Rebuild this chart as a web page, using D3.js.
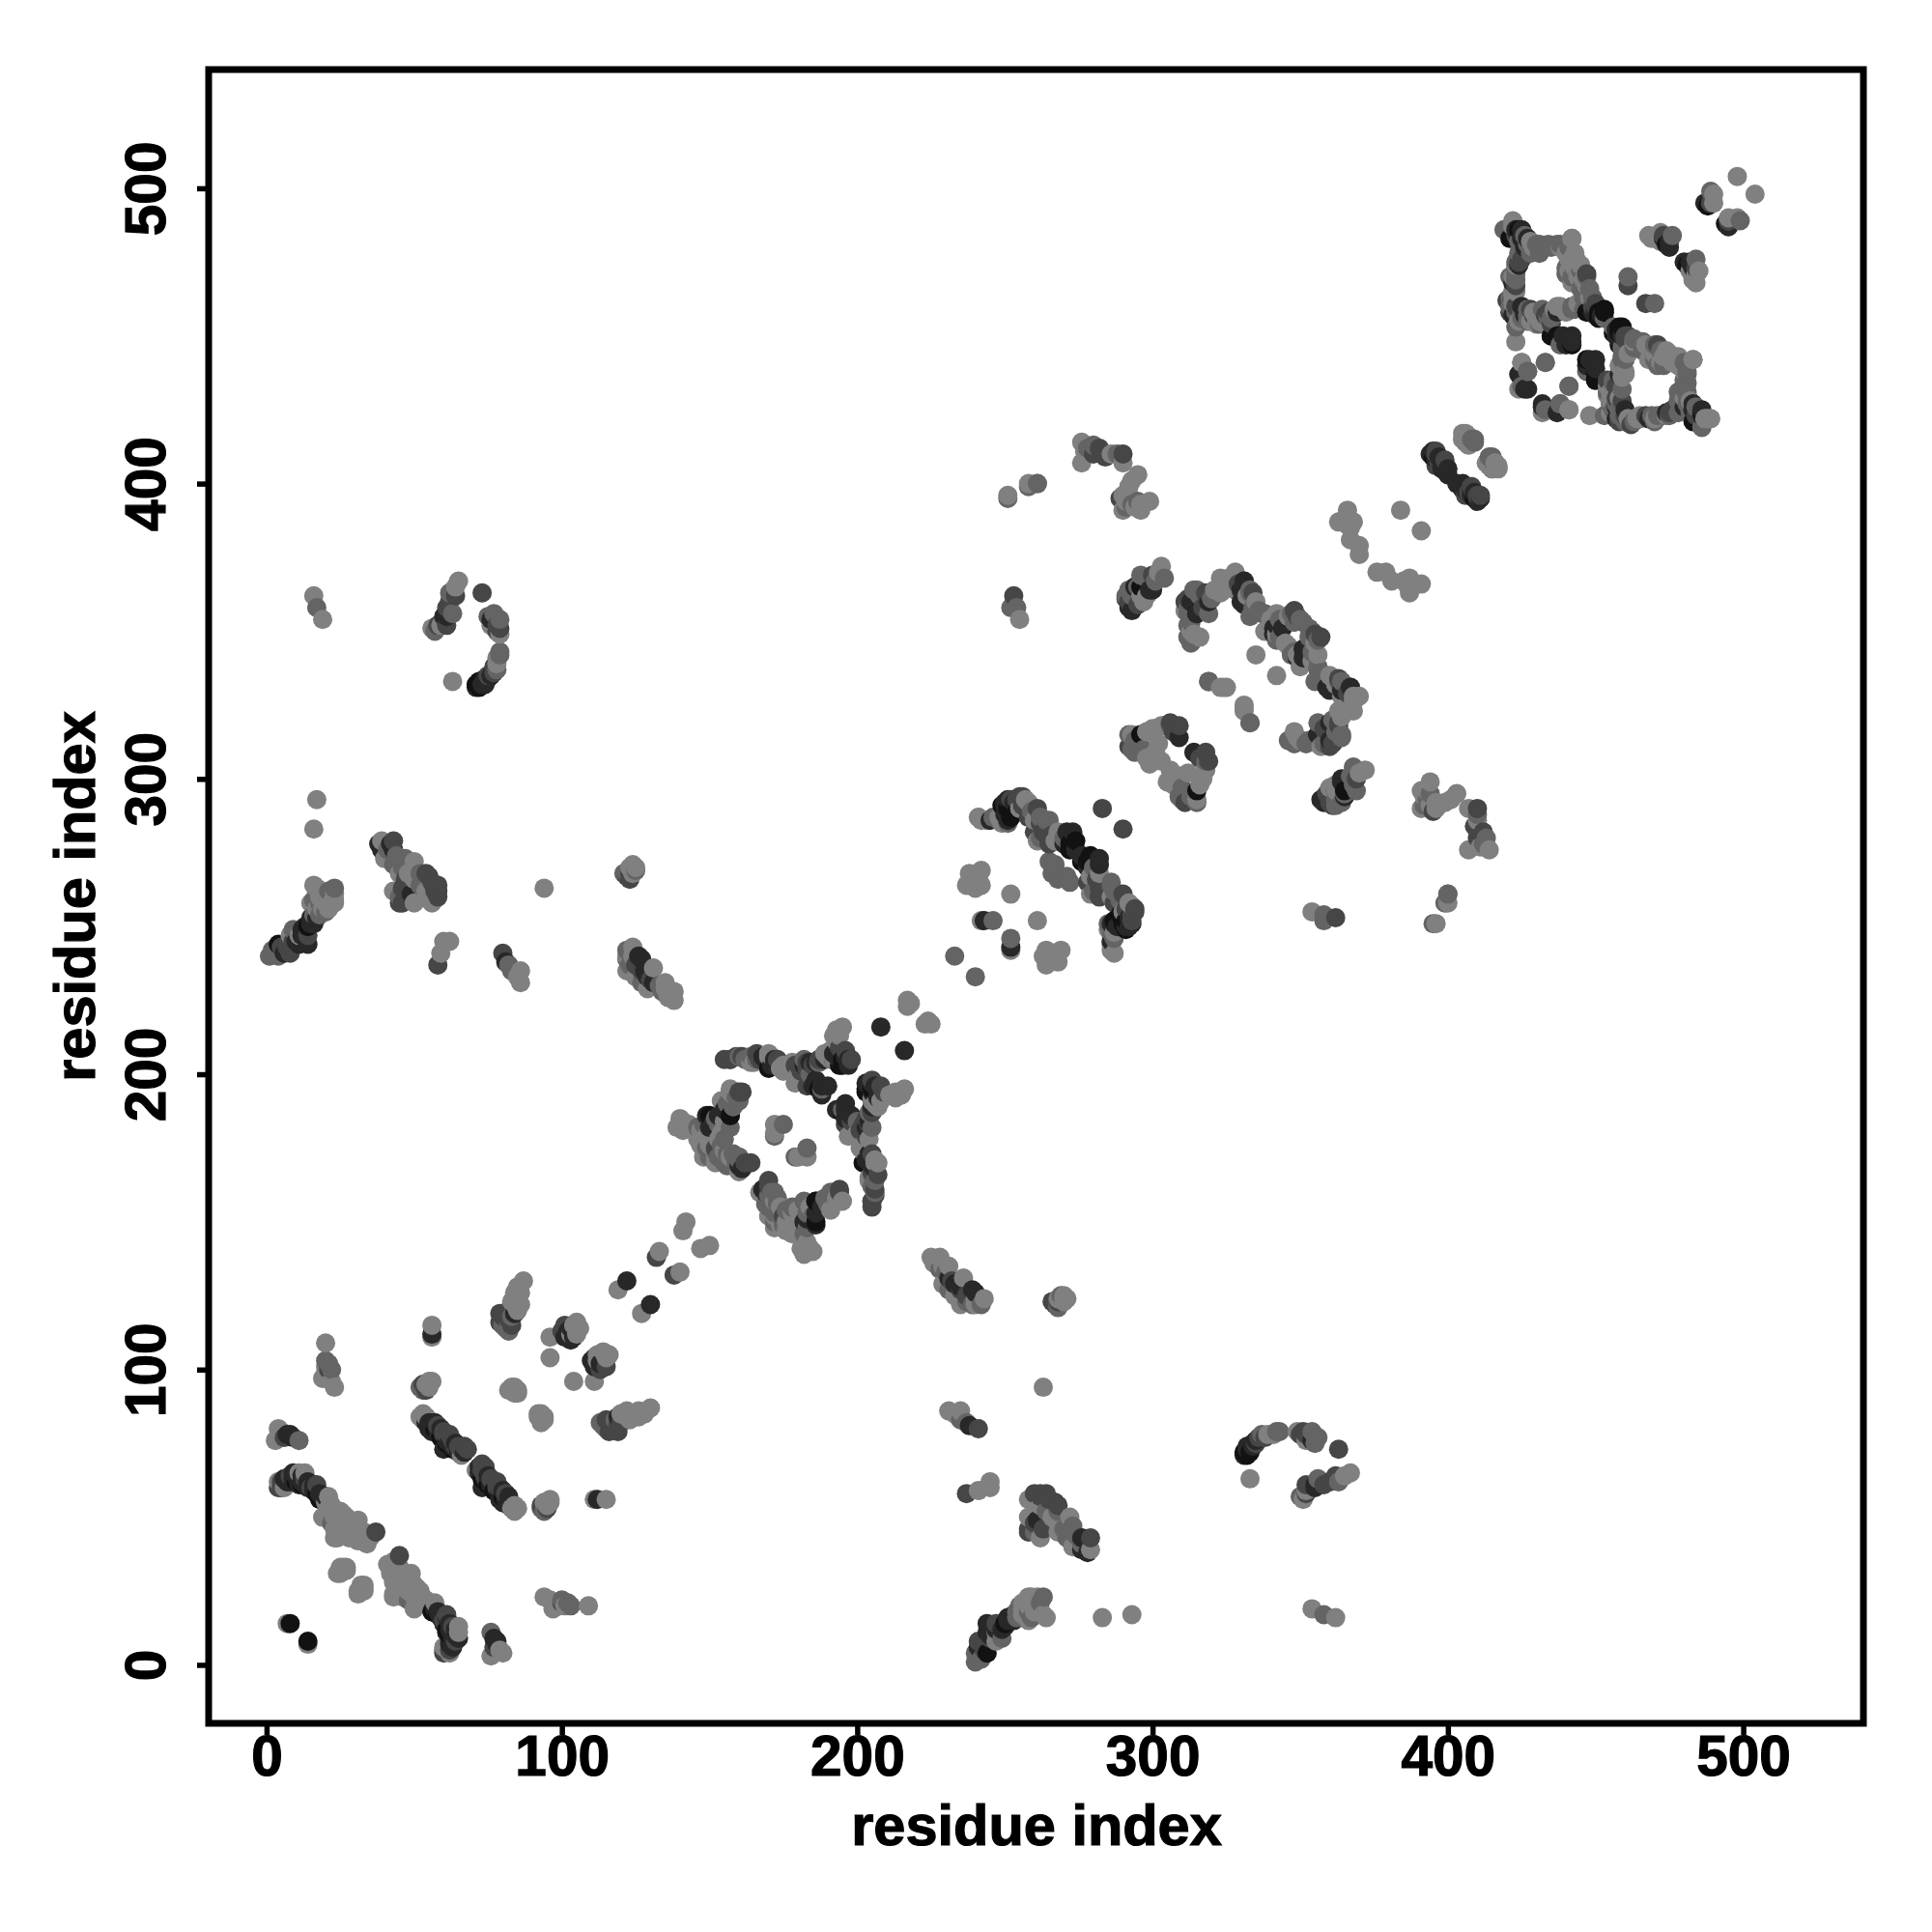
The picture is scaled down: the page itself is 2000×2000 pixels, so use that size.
<!DOCTYPE html>
<html>
<head>
<meta charset="utf-8">
<script src="https://cdn.jsdelivr.net/npm/d3@7"></script>
<style>
html,body{margin:0;padding:0;background:#fff}
text{font-family:"Liberation Sans",Arial,sans-serif;font-weight:bold;fill:#000}
</style>
</head>
<body>
<svg id="chart" width="2000" height="2000"></svg>
<script>
// gray levels
const L=128,M=100,D=70,K=40,B=18;
// contacts: [residue i, residue j, gray]; each one is plotted at (i,j) and (j,i)
const sheetA=[[4,60,D],[4,62,L],[7,62,K],[8,64,D],[10,64,K],[13,65,L],[14,62,K],[17,61,D],[19,57,K],[21,57,L],[19,50,L],[23,43,L],[26,51,L],[24,45,L],[31,49,L],[32,43,L],[28,46,L],[30,47,L],[25,32,L],[24,31,L],[27,33,L],[33,42,L],[37,45,D],[25,48,L],
 [5,60,D],[5,62,D],[6,60,L],[6,63,K],[8,62,K],[9,65,K],[10,62,B],[11,65,L],[11,61,K],[12,62,K],[9,63,K],[11,63,K],[12,64,K],[12,61,B],[13,63,D],[14,60,K],[15,60,D],[16,59,K],[16,61,K],[18,58,K],[17,58,B],[18,56,B],[20,55,L],[20,57,K],[22,54,L],[21,53,L],[23,50,L],[25,52,L],[27,50,L],[29,48,L],[25,46,L],[24,43,L],[26,44,L],[23,46,L],[28,43,L],[30,44,L],[31,42,L],[33,45,L],[35,43,L],[25,33,L],[26,33,L],[25,31,L],[27,32,L],[24,50,L],[22,48,M],[21,51,L],[34,41,L]];
const sheetAEnd=[[7,14,L],[8,14,B],[3,76,L],[4,80,L],[7,78,K],[11,76,M],[20,109,L],[20,103,M],[19,97,L],[23,94,L],[22,100,M],[21,100,D],[8,78,K],[6,77,D],[5,79,L],[9,77,K],[20,101,L],[21,102,M],[20,99,L],[22,96,L]];
const sheetB=[[53,85,L],[53,83,L],[55,80,K],[57,82,K],[59,80,K],[60,79,D],[60,73,K],[62,78,D],[64,75,K],[61,76,K],[63,74,K],[67,74,D],[66,71,L],
 [54,82,K],[55,82,K],[56,81,K],[56,79,K],[57,80,B],[58,79,K],[58,81,D],[59,77,B],[60,78,D],[61,78,D],[61,75,B],[62,76,K],[63,76,D],[63,73,B],[64,74,D],[65,74,D],[65,72,K],[66,73,D],[67,72,K],[68,73,D],[54,84,L],[52,84,L]];
const sheetC=[[52,94,M],[54,93,D],[54,95,L],[56,96,L],[56,115,L],[56,111,L],[56,112,K],[87,130,L],[84,126,L],[86,126,L],[85,124,L],[86,122,L],[79,119,D],[81,119,D],[82,120,D],[84,119,K],[80,115,M],[82,115,M],[82,117,D],[83,94,L],[82,93,L],[85,93,L],[85,92,L],
 [53,95,D],[55,94,L],[55,96,L],[53,93,M],[81,117,D],[80,118,D],[83,118,M],[85,120,L],[84,122,L],[83,123,L],[85,128,L],[85,121,L],[81,114,M],[79,116,D],[82,113,M],[83,115,D],[83,93,L],[84,92,L],[84,94,L]];
const nearDiagA=[[96,111,L],[96,104,L],[101,115,D],[101,111,K],[104,111,K],[103,114,K],[105,112,L],[105,116,L],[119,127,L],[122,130,K],[132,138,D],[133,140,L],[141,147,L],[142,150,L],[102,113,K],[103,110,K],[104,115,L],[103,112,L],[100,113,D],[106,114,L]];
const ringTop=[[157,205,D],[161,206,D],[164,206,M],[169,205,K],[170,207,L],[172,205,K],[174,202,L],[180,203,D],[183,202,D],[187,204,M],[180,198,L],[183,196,D],[188,196,K],[188,195,M],[190,206,L],[192,213,L],[195,216,L],[193,207,K],[195,205,B],[197,204,K],[198,205,D],
 [155,205,D],[159,206,D],[162,205,M],[166,205,M],[168,206,M],[171,206,L],[173,204,K],[175,203,L],[176,202,L],[178,201,L],[181,201,D],[184,200,M],[186,198,K],[185,196,K],[187,195,B],[189,205,K],[191,208,L],[192,207,K],[194,205,K],[192,205,K],[195,203,B],[194,203,B],[196,205,B]];
const ringLeft=[[139,182,L],[140,185,L],[145,181,L],[141,181,L],[146,178,L],[146,182,M],[149,179,L],[149,175,M],[149,174,L],[152,174,M],[152,172,L],[152,175,D],[153,178,L],[154,191,L],[149,186,K],[150,182,M],[150,186,B],[152,185,M],[153,186,K],[150,182,K],[156,190,M],[157,186,K],[157,182,M],[157,186,B],[156,173,M],[156,169,M],[157,171,M],[157,172,L],[160,167,L],[160,172,M],[160,169,K],[160,171,M],[164,170,D],[160,191,M],[157,194,L],[157,195,L],[161,194,D],
 [147,181,L],[148,183,M],[151,183,K],[153,183,M],[154,180,L],[155,178,M],[154,176,M],[155,174,L],[158,173,M],[159,170,M],[162,170,D],[161,168,K],[155,184,L],[155,188,K],[158,189,M],[159,192,M],[160,194,D],[158,193,L],[143,183,L],[141,184,L],[147,176,L],[150,176,L],[150,172,M],[148,172,L],[152,170,L],[155,170,M],[153,172,M]];
const ringRight=[[160,206,M],[157,205,D],[164,204,L],[166,207,D],[170,206,L],[170,202,B],[172,204,K],[175,201,L],[179,203,D],[182,203,K],[179,197,L],[184,198,D],[188,193,K],[186,204,K],[187,205,D],[191,205,L],[194,209,D],[194,213,L],[196,206,K],[197,203,K],[172,183,L],[175,183,M],[172,180,L],[172,179,M],[208,216,K],[217,225,L],[217,223,L],
 [165,204,L],[167,205,D],[168,206,K],[171,203,K],[173,205,D],[176,203,L],[178,204,L],[180,200,L],[182,205,M],[183,204,D],[184,204,K],[185,203,D],[188,205,D],[188,194,K],[190,196,K],[192,205,L],[189,207,L],[196,208,D],[197,205,K],[193,211,L],[193,215,L],[218,224,L]];
const bandBack=[[138,225,L],[138,228,L],[134,228,M],[135,231,L],[131,231,K],[127,231,M],[131,236,L],[127,235,D],[127,239,K],[122,235,L],[122,239,M],[122,242,M],[124,243,L],[122,267,D],[123,266,D],[122,268,M],[125,269,M],[124,270,L],[124,271,L],[94,263,L],[86,231,L],[86,235,L],[83,235,M],[81,238,K],[80,241,D],[58,237,D],[59,241,L],[62,245,L],[60,245,L],
 [122,240,L],[125,233,L],[129,229,L],[136,226,L],[135,229,L],[133,230,M],[129,233,K],[125,237,D],[124,240,L],[128,235,K],[130,232,D],[126,240,K],[123,237,M],[121,268,M],[123,268,D],[124,268,L],[125,270,L],[123,270,L],[85,233,L],[82,237,M]];
const bandMid=[[50,258,L],[46,258,D],[58,260,D],[58,264,D],[49,261,K],[43,262,L],[47,266,D],[55,267,D],[50,266,L],[50,272,L],[47,273,M],[43,271,M],[40,273,L],[43,276,K],[39,276,K],[43,279,D],[39,279,L],
 [48,260,D],[45,260,M],[54,262,L],[52,264,M],[56,265,D],[57,262,D],[46,270,M],[44,274,M],[41,276,M],[38,278,K],[42,278,K],[45,268,L],[48,268,L],[52,268,M],[54,268,D],[46,263,D],[45,258,D],[56,258,L],[58,262,D]];
const bandLow=[[1,240,M],[4,240,M],[8,241,D],[4,244,B],[7,243,D],[10,245,K],[14,244,K],[12,247,K],[11,247,L],[9,249,M],[13,250,K],[15,253,K],[20,255,M],[18,258,M],[21,256,L],[23,259,L],[16,259,M],[23,263,M],[16,264,L],[16,283,L],[17,293,L],[19,354,L],[17,358,M],[16,362,L],
 [2,242,M],[6,241,K],[5,243,D],[9,245,D],[8,247,L],[11,244,K],[12,249,K],[14,247,D],[14,250,B],[15,251,K],[16,251,K],[17,253,K],[16,254,M],[18,254,M],[19,256,L],[20,258,L],[22,258,L],[21,260,L],[17,256,L],[18,260,L],[21,262,M],[23,261,L],[23,258,L],[15,258,L],[17,263,L]];
const arc=[[71,331,K],[72,331,B],[74,332,K],[75,334,K],[77,336,D],[78,339,L],[79,342,M],[79,349,L],[79,351,D],[76,354,K],[77,356,M],[73,363,D],[63,333,L],[57,350,M],[59,352,L],[61,352,D],[61,355,K],[61,358,D],[64,362,D],[65,367,L],
 [71,332,B],[72,333,B],[73,332,K],[74,334,K],[75,335,D],[76,335,K],[77,338,D],[78,337,M],[78,341,L],[79,343,M],[76,352,L],[78,350,D],[78,352,D],[79,354,M],[75,355,M],[58,352,D],[60,355,K],[62,360,D],[62,363,M],[64,365,L],[56,351,L],[63,356,M]];
const helixA=[[242,286,L],[241,287,L],[245,286,K],[246,287,M],[251,286,K],[250,288,K],[251,290,B],[252,291,B],[252,287,B],[251,287,K],[254,289,B],[255,290,L],[253,292,K],[256,294,D],[255,294,D],[258,292,L],[260,286,L],[261,290,D],[264,286,M],[265,286,M],[260,282,D],[264,282,D],[261,279,L],[265,279,D],[265,278,D],[268,282,L],[273,282,K],[272,278,B],[272,276,B],[265,272,M],[283,290,D],[238,268,L],[242,269,L],[237,264,L],[242,264,L],[240,266,L],[252,261,L],[242,252,L],[243,252,K],[246,252,M],[233,240,M],
 [244,286,L],[248,287,L],[248,286,M],[249,291,B],[250,292,K],[251,293,K],[253,290,B],[254,293,D],[256,291,D],[257,293,L],[259,289,M],[262,287,M],[262,285,D],[263,282,D],[262,280,M],[266,281,D],[267,279,L],[270,280,M],[271,282,K],[270,278,K],[274,279,B],[274,276,K],[266,268,M],[267,271,M],[239,267,L],[241,266,L],[240,263,L],[239,265,L],[250,291,K],[252,293,D],[258,287,D],[247,287,M],[249,285,L],[251,285,M]];
const hub300=[[292,358,K],[291,362,M],[292,364,M],[292,360,D],[296,369,M],[298,368,M],[296,365,B],[296,362,K],[297,360,L],[300,364,K],[300,369,D],[303,372,L],[304,368,M],[293,357,K],[291,361,D],[295,365,M],[296,362,L],[299,364,K],[293,362,M],[294,365,K],[295,359,D],[298,362,L],[301,367,M],[302,370,L]];
const hub310=[[311,360,D],[311,357,L],[312,361,D],[312,356,M],[314,364,M],[315,364,M],[315,356,B],[315,356,K],[319,363,D],[318,363,D],[319,360,K],[319,356,M],[312,352,L],[312,352,M],[312,348,L],[312,348,M],[313,346,M],[316,348,L],[323,368,L],[323,363,L],[324,364,L],[328,370,L],[328,368,L],[331,367,D],[331,367,K],[328,364,L],[331,359,K],[333,364,M],[333,363,M],[330,360,K],[335,360,L],[333,355,M],[337,356,M],[338,356,M],[342,356,L],[341,351,K],[341,349,K],[342,352,K],[342,349,L],[342,347,M],[338,350,L],[348,357,D],[348,353,M],[347,356,M],[319,333,M],[323,331,L],[325,331,L],[335,342,L],[331,324,L],[333,319,M],
 [312,358,M],[313,360,K],[316,362,M],[317,358,D],[320,361,M],[321,364,L],[325,366,L],[326,368,L],[329,366,D],[330,364,K],[332,362,L],[334,358,M],[336,357,M],[340,354,L],[343,354,M],[344,351,K],[343,348,M],[345,346,L],[349,355,D],[350,354,M],[351,353,M],[346,355,L],[313,350,L],[314,349,L],[313,353,M],[334,363,D]];
const hub290=[[292,315,M],[296,315,B],[300,317,L],[303,318,L],[309,318,D],[309,314,K],[292,311,D],[297,310,M],[301,309,L],[300,306,L],[304,318,L],[301,307,L],[293,310,M],[293,315,L],[294,313,M],[298,316,L],[301,317,L],[306,318,M],[307,316,D],[294,309,M],[298,307,L],[299,305,L],[303,306,L],[302,312,L],[306,319,D]];
const upperRight=[[251,395,M],[251,396,L],[258,400,L],[261,400,L],[276,414,L],[280,413,M],[276,407,L],[280,410,D],[283,410,D],[286,410,L],[290,410,D],[290,407,L],[295,403,L],[292,399,L],[289,395,D],[291,394,L],[290,391,L],[296,391,L],[295,394,M],[299,394,L],[292,396,L],[255,354,L],[254,358,M],[252,358,M],[253,362,D],[399,258,M],[400,261,M],[405,417,L],[406,414,L],[409,415,M],[395,411,K],[396,408,K],[399,408,D],[397,406,D],[414,409,M],[414,406,L],[417,406,L],[405,400,K],[408,398,K],[410,396,D],[363,387,L],[366,391,L],[368,387,L],[367,381,L],[370,376,L],[370,379,L],[384,391,L],
 [278,412,M],[282,412,D],[284,409,D],[288,410,M],[277,411,L],[293,401,L],[293,393,M],[290,396,L],[291,392,M],[294,392,L],[296,393,L],[405,415,L],[407,416,L],[394,410,K],[395,409,B],[397,409,D],[398,406,K],[396,406,D],[403,400,K],[405,398,K],[406,398,K],[407,397,D],[409,397,K],[411,396,D],[415,408,M],[416,407,L],[413,407,L],[415,405,L],[366,386,L],[365,388,L],[367,385,L]];
const domainTop=[[419,486,M],[422,488,L],[423,486,K],[421,483,B],[425,483,D],[427,481,M],[429,480,L],[433,480,M],[438,481,M],[442,483,L],[441,479,L],[441,476,L],[445,474,L],[440,471,M],[447,471,D],[447,467,M],[448,463,M],[447,458,B],[450,461,D],[453,459,B],[424,474,K],[423,474,L],[423,471,M],[423,467,D],[422,465,L],[420,462,D],[425,460,K],[422,457,K],[427,457,M],[430,456,L],[433,457,D],[438,460,L],[442,460,M],[435,456,M],[423,453,M],[423,448,L],[435,450,K],[439,450,K],[442,450,K],[442,447,B],[438,447,M],
 [424,482,M],[426,484,M],[428,482,L],[431,481,M],[435,480,M],[440,478,L],[442,476,L],[443,473,L],[442,468,L],[444,470,M],[446,469,L],[445,466,M],[446,463,M],[444,461,L],[446,459,M],[449,458,K],[451,458,B],[450,459,K],[449,460,D],[443,459,M],[440,458,L],[436,459,L],[434,456,M],[431,456,L],[428,455,L],[425,456,M],[421,460,M],[421,463,M],[422,461,L],[421,470,M],[423,469,M],[425,476,D],[421,458,D],[423,458,M],[424,455,L],[427,459,M],[429,458,L],[430,454,L]];
const domainLow=[[453,458,B],[450,457,K],[450,460,D],[448,463,L],[447,467,L],[447,470,M],[444,475,L],[442,470,M],[441,472,L],[441,478,L],[442,483,L],[437,481,M],[432,480,M],[429,479,M],[425,483,K],[424,486,B],[422,487,L],[422,489,L],[424,475,D],[423,475,M],[422,468,K],[422,464,L],[423,460,D],[426,457,K],[431,454,M],[434,458,D],[437,458,K],[437,460,L],[442,459,M],[442,448,K],[440,447,K],[437,450,B],[435,450,B],[433,441,L],[425,441,L],[427,438,M],[426,432,K],[425,433,M],[424,437,K],[427,432,K],[424,432,L],[427,438,M],[425,441,L],[433,441,M],
 [451,456,B],[452,457,K],[453,456,M],[449,463,M],[448,466,M],[445,472,M],[444,470,L],[443,474,L],[440,473,M],[443,478,L],[441,480,M],[438,480,L],[434,481,M],[431,478,M],[430,481,M],[428,478,M],[426,480,K],[427,483,K],[425,486,K],[423,484,D],[424,478,M],[423,473,M],[423,465,L],[422,470,L],[425,458,M],[427,455,M],[429,457,D],[428,459,D],[431,455,L],[433,454,L],[432,459,M],[435,454,D]];
const domainTail=[[461,470,M],[461,467,D],[468,484,L],[471,484,L],[472,482,L],[472,485,L],[474,481,B],[475,482,K],[488,494,B],[489,495,M],[489,499,M],[495,489,D],[498,504,L],[490,498,L],[487,495,K],[490,495,L],[473,484,D],[476,484,M],[469,483,L],[475,480,K],[473,483,K]];
const contactGroups=[sheetA,sheetAEnd,sheetB,sheetC,nearDiagA,ringLeft,ringTop,ringRight,bandBack,bandMid,bandLow,arc,helixA,hub290,hub300,hub310,upperRight,domainTop,domainLow,domainTail];
const tickValues=[0,100,200,300,400,500];
const axisTitle="residue index";

const svg=d3.select("#chart");
const x=d3.scaleLinear().domain([-19.6,540.7]).range([216,1929]);
const y=d3.scaleLinear().domain([-19.8,540.2]).range([1784,72]);

const points=[];
contactGroups.forEach(g=>g.forEach(c=>{
  points.push({x:c[0],y:c[1],g:c[2]});
  points.push({x:c[1],y:c[0],g:c[2]});
}));
// the reference stacks its marks left to right, lower ones first
const ordered=d3.sort(points,(a,b)=>a.x-b.x||a.y-b.y);
svg.append("g").selectAll("circle").data(ordered).join("circle")
  .attr("cx",d=>x(d.x)).attr("cy",d=>y(d.y)).attr("r",10)
  .attr("fill",d=>d3.rgb(d.g,d.g,d.g));

svg.append("rect").attr("x",216).attr("y",72).attr("width",1713).attr("height",1712)
  .attr("fill","none").attr("stroke","#000").attr("stroke-width",7);

const gx=svg.append("g").attr("transform","translate(0,1784)")
  .call(d3.axisBottom(x).tickValues(tickValues).tickSize(12).tickPadding(6).tickFormat(d3.format("d")));
const gy=svg.append("g").attr("transform","translate(216,0)")
  .call(d3.axisLeft(y).tickValues(tickValues).tickSize(12).tickPadding(6).tickFormat(d3.format("d")));
[gx,gy].forEach(g=>{
  g.select(".domain").remove();
  g.selectAll("line").attr("stroke","#000").attr("stroke-width",5.5);
  g.selectAll("text").attr("font-size",58.5).attr("font-family",'"Liberation Sans"').attr("font-weight","bold").attr("fill","#000").attr("stroke","#000").attr("stroke-width",1.2);
});
gx.selectAll("text").attr("dy",null).attr("y",null).attr("text-anchor","middle").attr("transform","translate(0,54)");
gy.selectAll("text").attr("dy",null).attr("x",null).attr("text-anchor","middle").attr("transform","translate(-45,0) rotate(-90)");

svg.append("text").attr("x",1073).attr("y",1910).attr("text-anchor","middle").attr("font-size",59.5).attr("stroke","#000").attr("stroke-width",1.2).text(axisTitle);
svg.append("text").attr("transform","translate(98,928) rotate(-90)").attr("text-anchor","middle").attr("font-size",59.5).attr("stroke","#000").attr("stroke-width",1.2).text(axisTitle);
</script>
</body>
</html>
